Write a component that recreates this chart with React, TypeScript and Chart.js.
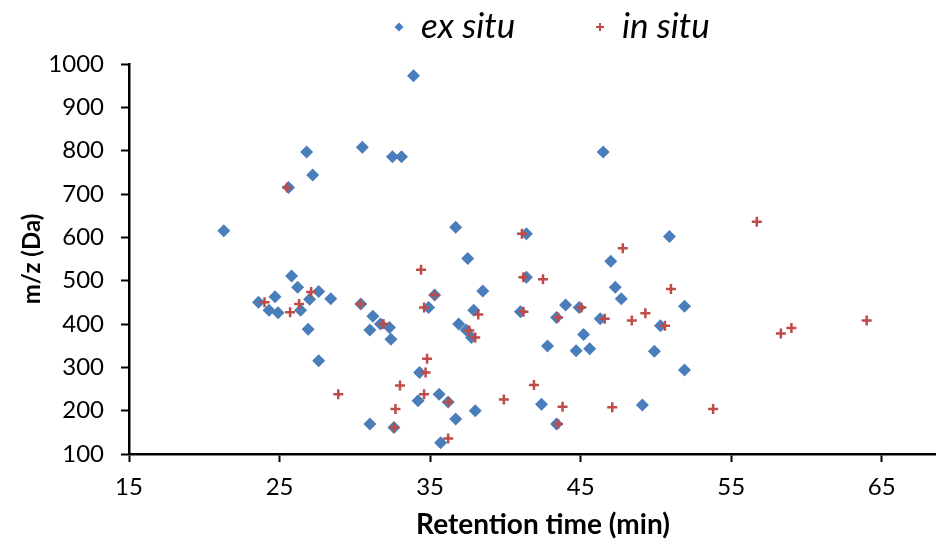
import React, { useEffect, useRef } from "react";
import { Chart, registerables } from "chart.js";

Chart.register(...registerables);

// Retention time (min) and m/z (Da) for each detected compound
const exSituTime = [
  21.3, 23.6, 24.3, 24.7, 24.9, 25.6, 25.8, 26.2, 26.4, 26.8, 26.9, 27.0, 27.2, 27.6, 27.6, 28.4,
  30.4, 30.5, 31.0, 31.0, 31.2, 31.7, 32.3, 32.4, 32.5, 32.6, 33.1, 33.9, 34.2, 34.3, 34.9, 35.3,
  35.6, 35.7, 36.2, 36.7, 36.7, 36.9, 37.4, 37.5, 37.75, 37.9, 38.0, 38.5, 41.0, 41.4, 41.4, 42.4,
  42.8, 43.4, 43.4, 44.0, 44.7, 44.9, 45.2, 45.6, 46.3, 46.5, 47.0, 47.3, 47.7, 49.1, 49.9, 50.3,
  50.9, 51.9, 51.9,
];
const exSituMz = [
  615, 450, 432, 463, 426, 715, 511, 485, 432, 797, 388, 457, 744, 475, 315, 458,
  446, 808, 386, 169, 418, 400, 392, 365, 786, 161, 786, 973, 223, 288, 438, 467,
  238, 126, 220, 623, 181, 400, 386, 551, 369, 432, 200, 476, 428, 608, 508, 215,
  349, 415, 169, 444, 338, 438, 376, 343, 412, 797, 545, 485, 458, 213, 337, 396,
  602, 441, 294,
];

const inSituTime = [
  24.0, 25.5, 25.7, 26.3, 27.1, 28.9, 30.4, 31.9, 32.6, 32.7, 33.0, 34.4, 34.6, 34.6, 34.7, 34.8,
  35.3, 36.2, 36.2, 37.6, 38.0, 38.2, 39.9, 41.1, 41.2, 41.2, 41.9, 42.5, 43.5, 43.5, 43.8, 45.05,
  46.6, 47.1, 47.8, 48.4, 49.3, 50.6, 51.0, 53.8, 56.7, 58.3, 59.0, 64.0,
];
const inSituMz = [
  450, 715, 427, 446, 474, 238, 446, 400, 161, 204, 258, 525, 438, 238, 288, 320,
  467, 220, 136, 385, 369, 422, 226, 608, 508, 428, 259, 503, 415, 169, 209, 438,
  412, 208, 575, 408, 425, 396, 481, 204, 636, 378, 391, 408,
];

const xTicks = [15, 25, 35, 45, 55, 65];
const seriesNames = ["ex situ", "in situ"];

const BLUE = "#4A7EBB";
const RED = "#BE4B48";
const FONT = "Lato";

const toPoints = (xs: number[], ys: number[]) => xs.map((x, i) => ({ x, y: ys[i] }));

// Legend drawn across the top: small marker followed by italic series name
const seriesLegend = {
  id: "seriesLegend",
  afterDraw(chart: any) {
    const ctx = chart.ctx as CanvasRenderingContext2D;
    const markerY = 27;
    const baseline = 38;
    const entries = [
      { text: seriesNames[0], kind: "diamond", color: BLUE, x: 399 },
      { text: seriesNames[1], kind: "cross", color: RED, x: 600 },
    ];
    ctx.save();
    for (const e of entries) {
      ctx.fillStyle = e.color;
      ctx.strokeStyle = e.color;
      if (e.kind === "diamond") {
        const r = 4.5;
        ctx.beginPath();
        ctx.moveTo(e.x, markerY - r);
        ctx.lineTo(e.x + r, markerY);
        ctx.lineTo(e.x, markerY + r);
        ctx.lineTo(e.x - r, markerY);
        ctx.closePath();
        ctx.fill();
      } else {
        const r = 4;
        ctx.lineWidth = 2;
        ctx.beginPath();
        ctx.moveTo(e.x - r, markerY);
        ctx.lineTo(e.x + r, markerY);
        ctx.moveTo(e.x, markerY - r);
        ctx.lineTo(e.x, markerY + r);
        ctx.stroke();
      }
      ctx.fillStyle = "#000";
      ctx.font = `italic 35px ${FONT}`;
      ctx.textBaseline = "alphabetic";
      ctx.textAlign = "left";
      ctx.fillText(e.text, e.x + 22, baseline);
    }
    ctx.restore();
  },
};

export default function App() {
  const canvasRef = useRef<HTMLCanvasElement | null>(null);

  useEffect(() => {
    const canvas = canvasRef.current;
    if (!canvas) return;
    const chart = new Chart(canvas, {
      type: "scatter",
      data: {
        datasets: [
          {
            label: seriesNames[0],
            data: toPoints(exSituTime, exSituMz),
            pointStyle: "rectRot",
            pointRadius: 6.5,
            pointHoverRadius: 6.5,
            backgroundColor: BLUE,
            borderColor: BLUE,
            borderWidth: 0,
            order: 1,
          },
          {
            label: seriesNames[1],
            data: toPoints(inSituTime, inSituMz),
            pointStyle: "cross",
            pointRadius: 5,
            pointHoverRadius: 5,
            backgroundColor: RED,
            borderColor: RED,
            borderWidth: 2.5,
            order: 0,
          },
        ],
      },
      options: {
        animation: false,
        responsive: false,
        devicePixelRatio: 1,
        layout: { padding: { top: 64, right: 13, bottom: 0, left: 0 } },
        plugins: {
          legend: { display: false },
          tooltip: { enabled: false },
        },
        scales: {
          x: {
            type: "linear",
            min: 15,
            max: 70,
            afterBuildTicks: (s: any) => {
              s.ticks = xTicks.map((v) => ({ value: v }));
            },
            afterFit: (s: any) => {
              s.height = 88;
            },
            border: { display: true, color: "#000", width: 2.5 },
            grid: {
              display: true,
              drawOnChartArea: false,
              drawTicks: true,
              tickLength: 8,
              tickColor: "#000",
              tickWidth: 2,
            },
            ticks: {
              color: "#000",
              padding: 11,
              font: { family: FONT, size: 24 },
              maxRotation: 0,
              callback: (v: any) => String(v),
            },
            title: {
              display: true,
              text: "Retention time (min)",
              color: "#000",
              font: { family: FONT, size: 28, weight: "bold" },
              padding: { top: 0, bottom: 0 },
            },
          },
          y: {
            type: "linear",
            min: 100,
            max: 1000,
            afterFit: (s: any) => {
              s.width = 129;
            },
            border: { display: true, color: "#000", width: 2.5 },
            grid: {
              display: true,
              drawOnChartArea: false,
              drawTicks: true,
              tickLength: 8,
              tickColor: "#000",
              tickWidth: 2,
            },
            ticks: {
              stepSize: 100,
              color: "#000",
              padding: 17,
              font: { family: FONT, size: 24 },
              callback: (v: any) => String(v),
            },
            title: {
              display: true,
              text: "m/z (Da)",
              color: "#000",
              font: { family: FONT, size: 24, weight: "bold" },
              padding: { top: 18, bottom: 0 },
            },
          },
        },
      },
      plugins: [seriesLegend],
    });
    return () => chart.destroy();
  }, []);

  return (
    <div
      style={{
        position: "absolute",
        left: 0,
        top: 0,
        width: 936,
        height: 542,
        overflow: "hidden",
        background: "#fff",
      }}
    >
      <canvas ref={canvasRef} width={970} height={542} style={{ display: "block" }} />
    </div>
  );
}
